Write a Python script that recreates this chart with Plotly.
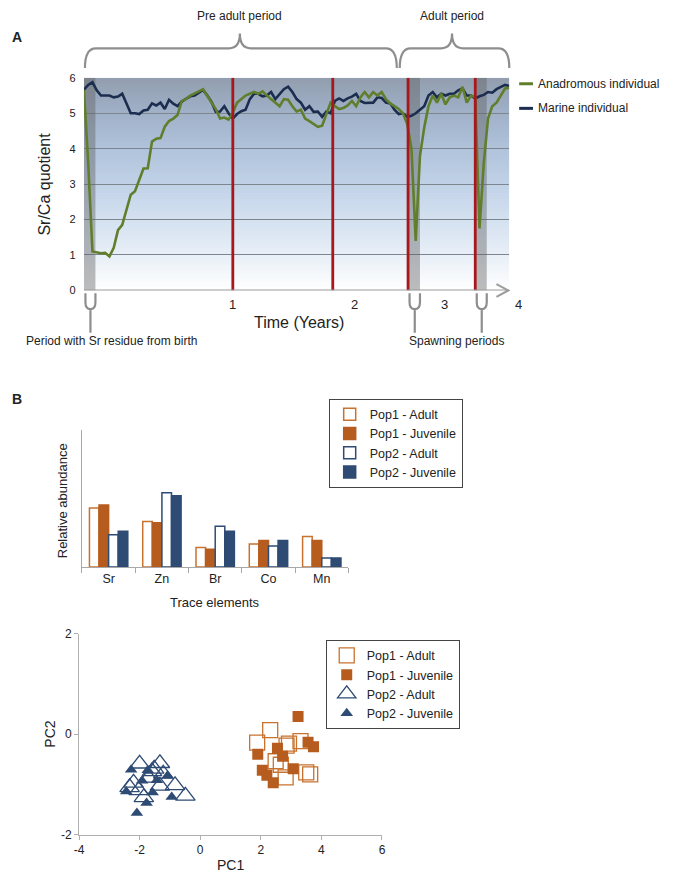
import plotly.graph_objects as go

W, H = 685, 880
FONT = "Liberation Sans, Arial, sans-serif"

# ---------------- Panel A data (Sr/Ca along otolith transect) ----------------
position = list(range(101))  # transect position, 0-100
marine_srca = [5.67, 5.8, 5.88, 5.65, 5.5, 5.5, 5.5, 5.45, 5.47, 5.55,
               5.25, 5.0, 5.0, 4.98, 5.08, 5.1, 5.28, 5.22, 5.3, 5.12,
               5.38, 5.27, 5.2, 5.33, 5.41, 5.48, 5.5, 5.58, 5.66, 5.5,
               5.32, 5.04, 5.05, 5.2, 5.0, 4.85, 4.98, 5.06, 5.1, 5.4,
               5.55, 5.55, 5.48, 5.5, 5.6, 5.4, 5.55, 5.68, 5.75, 5.6,
               5.4, 5.3, 5.1, 5.2, 5.04, 5.05, 4.9, 5.05, 5.0, 5.35,
               5.42, 5.35, 5.42, 5.47, 5.55, 5.35, 5.29, 5.3, 5.3, 5.45,
               5.43, 5.3, 5.28, 5.1, 4.98, 5.0, 4.9, 4.93, 5.0, 5.1,
               5.2, 5.5, 5.6, 5.45, 5.55, 5.5, 5.55, 5.55, 5.65, 5.7,
               5.5, 5.5, 5.42, 5.48, 5.52, 5.6, 5.58, 5.68, 5.75, 5.8, 5.77]
anadromous_srca = [5.66, 3.6, 1.1, 1.08, 1.05, 1.06, 0.96, 1.2, 1.7, 1.85,
                   2.3, 2.7, 2.8, 3.15, 3.44, 3.45, 4.2, 4.28, 4.3, 4.62,
                   4.78, 4.85, 4.95, 5.35, 5.4, 5.5, 5.55, 5.62, 5.68, 5.5,
                   5.3, 5.12, 4.85, 4.88, 4.82, 5.02, 5.3, 5.4, 5.5, 5.55,
                   5.6, 5.55, 5.62, 5.5, 5.4, 5.3, 5.2, 5.4, 5.38, 5.2,
                   5.05, 5.1, 4.85, 4.78, 4.7, 4.62, 4.65, 4.95, 5.3, 5.2,
                   5.12, 5.15, 5.22, 5.35, 5.2, 5.45, 5.6, 5.45, 5.6, 5.5,
                   5.6, 5.4, 5.28, 5.2, 5.12, 5.0, 4.7, 4.0, 1.4, 3.8,
                   4.6, 5.2, 5.5, 5.3, 5.55, 5.25, 5.45, 5.5, 5.45, 5.75,
                   5.3, 5.5, 5.45, 1.75, 3.6, 4.85, 5.2, 5.3, 5.5, 5.7, 5.72]
annual_marks = [35.0, 58.5, 76.2, 92.0]
birth_band = (0.0, 2.7)
spawn_bands = [(76.2, 79.0), (92.0, 94.7)]
time_tick_pos = [35.0, 63.6, 84.7, 102.1]
time_tick_text = ["1", "2", "3", "4"]
srca_ticks = [0, 1, 2, 3, 4, 5, 6]

# ---------------- Panel B bar data ----------------
elements = ["Sr", "Zn", "Br", "Co", "Mn"]
pop1_adult = [6.0, 4.63, 1.97, 2.33, 3.1]
pop1_juvenile = [6.3, 4.5, 1.8, 2.7, 2.7]
pop2_adult = [3.27, 7.53, 4.13, 2.13, 0.9]
pop2_juvenile = [3.63, 7.23, 3.63, 2.7, 0.9]

# ---------------- Panel B PCA data ----------------
p1a_pc1 = [1.88, 2.31, 2.85, 3.31, 2.49, 2.66, 2.82, 3.50, 3.63, 2.93]
p1a_pc2 = [-0.17, 0.08, -0.23, -0.14, -0.54, -0.61, -0.86, -0.76, -0.80, -0.19]
p1j_pc1 = [3.23, 3.56, 3.74, 1.90, 2.55, 2.72, 2.05, 2.20, 2.41, 3.07]
p1j_pc2 = [0.35, -0.16, -0.25, -0.40, -0.28, -0.44, -0.72, -0.82, -0.97, -0.69]
p2a_pc1 = [-2.00, -1.33, -1.52, -1.22, -2.20, -1.70, -2.03, -1.33, -0.83, -0.49, -1.86, -1.59, -2.33]
p2a_pc2 = [-0.59, -0.58, -0.69, -0.79, -0.97, -0.87, -1.12, -1.03, -1.02, -1.23, -1.26, -0.74, -1.06]
p2j_pc1 = [-2.28, -1.73, -2.44, -1.92, -1.43, -1.08, -1.57, -0.94, -1.77, -2.09]
p2j_pc2 = [-0.71, -0.72, -1.14, -0.93, -0.92, -0.83, -1.16, -1.25, -1.37, -1.57]
pc1_ticks = [-4, -2, 0, 2, 4, 6]
pc2_ticks = [-2, 0, 2]

# ---------------- styling ----------------
GREEN = "#617e2c"
NAVY = "#1c2e4f"
RED = "#a8171c"
ORANGE = "#b65c1f"
ORANGE_LINE = "#c8722f"
BLUE = "#2e4b74"
GRAYLINE = "#8e8e8e"


def px(x):
    return x / W


def py(y):
    return 1 - y / H


XA_DOM = [px(80), px(511)]
XA_RANGE = [0, 100]


def xa_paper(v):
    # position along panel A's time axis expressed in paper units (axis extends past the frame)
    return XA_DOM[0] + (v - XA_RANGE[0]) / (XA_RANGE[1] - XA_RANGE[0]) * (XA_DOM[1] - XA_DOM[0])


fig = go.Figure()

# gray bands (birth + spawning)
for b0, b1 in [birth_band] + spawn_bands:
    fig.add_trace(go.Scatter(x=[b0, b1, b1, b0, b0], y=[0, 0, 6, 6, 0], mode="lines",
                             fill="toself", fillcolor="rgba(95,95,95,0.42)",
                             line=dict(width=0), showlegend=False, hoverinfo="skip",
                             xaxis="x", yaxis="y"))

fig.add_trace(go.Scatter(x=position, y=marine_srca, mode="lines", name="Marine individual",
                         line=dict(color=NAVY, width=2.6), showlegend=False,
                         xaxis="x", yaxis="y"))
fig.add_trace(go.Scatter(x=position, y=anadromous_srca, mode="lines", name="Anadromous individual",
                         line=dict(color=GREEN, width=2.6), showlegend=False,
                         xaxis="x", yaxis="y"))
mx, my = [], []
for m in annual_marks:
    mx += [m, m, None]
    my += [0, 6, None]
fig.add_trace(go.Scatter(x=mx, y=my, mode="lines", line=dict(color=RED, width=2.8),
                         showlegend=False, hoverinfo="skip", xaxis="x", yaxis="y"))

# ---------------- bars ----------------
bar_specs = [("Pop1 - Adult", pop1_adult, "white", ORANGE_LINE),
             ("Pop1 - Juvenile", pop1_juvenile, ORANGE, ORANGE),
             ("Pop2 - Adult", pop2_adult, "white", BLUE),
             ("Pop2 - Juvenile", pop2_juvenile, BLUE, BLUE)]
for name, vals, fillc, linec in bar_specs:
    fig.add_trace(go.Bar(x=elements, y=vals, name=name,
                         marker=dict(color=fillc, line=dict(color=linec, width=1.5)),
                         xaxis="x2", yaxis="y2", legend="legend"))

# ---------------- PCA scatter ----------------
fig.add_trace(go.Scatter(x=p1a_pc1, y=p1a_pc2, mode="markers", name="Pop1 - Adult",
                         marker=dict(symbol="square-open", size=15, color=ORANGE_LINE,
                                     line=dict(width=1.3, color=ORANGE_LINE)),
                         xaxis="x3", yaxis="y3", legend="legend2"))
fig.add_trace(go.Scatter(x=p1j_pc1, y=p1j_pc2, mode="markers", name="Pop1 - Juvenile",
                         marker=dict(symbol="square", size=11, color=ORANGE,
                                     line=dict(width=0)),
                         xaxis="x3", yaxis="y3", legend="legend2"))
fig.add_trace(go.Scatter(x=p2a_pc1, y=p2a_pc2, mode="markers", name="Pop2 - Adult",
                         marker=dict(symbol="triangle-up-open", size=17, color=BLUE,
                                     line=dict(width=1.3, color=BLUE)),
                         xaxis="x3", yaxis="y3", legend="legend2"))
fig.add_trace(go.Scatter(x=p2j_pc1, y=p2j_pc2, mode="markers", name="Pop2 - Juvenile",
                         marker=dict(symbol="triangle-up", size=11, color=BLUE,
                                     line=dict(width=0)),
                         xaxis="x3", yaxis="y3", legend="legend2"))

# ---------------- shapes ----------------
shapes = []
# vertical gradient background of panel A
stops = [(255, 255, 255), (232, 239, 247), (212, 225, 240), (193, 210, 231),
         (176, 195, 219), (160, 177, 200), (146, 158, 175)]
nstrip = 72
for i in range(nstrip):
    y0 = 6 * i / nstrip
    y1 = 6 * (i + 1) / nstrip
    ym = (y0 + y1) / 2
    k = min(int(ym), 5)
    f = ym - k
    c = [round(stops[k][j] + (stops[k + 1][j] - stops[k][j]) * f) for j in range(3)]
    shapes.append(dict(type="rect", xref="x", yref="y", x0=0, x1=100, y0=y0,
                       y1=min(y1 + 0.05, 6), fillcolor=f"rgb({c[0]},{c[1]},{c[2]})",
                       line=dict(width=0), layer="below"))
# x axis line with arrow
shapes.append(dict(type="line", xref="x", yref="y", x0=0, x1=100, y0=0, y1=0,
                   line=dict(color="#9c9c9c", width=2), layer="above"))
shapes.append(dict(type="path", xref="paper", yref="paper",
                   path=f"M{px(498)},{py(281.5)} L{px(510)},{py(288)} L{px(498)},{py(294.5)}",
                   line=dict(color="#9c9c9c", width=2)))


def brace(x0, x1, xm, yend=62, ybar=42, ytip=27, r=11):
    return (f"M{px(x0)},{py(yend)} Q{px(x0)},{py(ybar)} {px(x0 + r)},{py(ybar)} "
            f"L{px(xm - r)},{py(ybar)} Q{px(xm)},{py(ybar)} {px(xm)},{py(ytip)} "
            f"Q{px(xm)},{py(ybar)} {px(xm + r)},{py(ybar)} L{px(x1 - r)},{py(ybar)} "
            f"Q{px(x1)},{py(ybar)} {px(x1)},{py(yend)}")


shapes.append(dict(type="path", xref="paper", yref="paper", path=brace(81, 397, 238),
                   line=dict(color=GRAYLINE, width=2.2)))
shapes.append(dict(type="path", xref="paper", yref="paper", path=brace(400, 511, 453),
                   line=dict(color=GRAYLINE, width=2.2)))


def fork(xl, xr):
    xc = (xl + xr) / 2
    return (f"M{xl},{py(291)} L{xl},{py(300)} Q{xl},{py(307)} {xc},{py(307)} "
            f"Q{xr},{py(307)} {xr},{py(300)} L{xr},{py(291)} M{xc},{py(307)} L{xc},{py(331)}")


for b0, b1 in [birth_band] + spawn_bands:
    shapes.append(dict(type="path", xref="x", yref="paper", path=fork(b0 + 0.35, b1),
                       line=dict(color=GRAYLINE, width=2.2)))
# legend samples for panel A
shapes.append(dict(type="line", xref="paper", yref="paper", x0=px(521), x1=px(535),
                   y0=py(78), y1=py(78), line=dict(color=GREEN, width=3)))
shapes.append(dict(type="line", xref="paper", yref="paper", x0=px(521), x1=px(535),
                   y0=py(103), y1=py(103), line=dict(color=NAVY, width=3)))

# ---------------- annotations ----------------
ann = []


def text(x, y, s, size=12, angle=0, anchor="center", bold=False):
    ann.append(dict(x=px(x), y=py(y), xref="paper", yref="paper", text=f"<b>{s}</b>" if bold else s,
                    showarrow=False, xanchor=anchor, yanchor="middle", textangle=angle,
                    font=dict(family=FONT, size=size, color="#222")))


text(12, 30, "A", 14, bold=True)
text(12, 398, "B", 14, bold=True)
text(238, 9, "Pre adult period", 12)
text(453, 9, "Adult period", 12)
text(108, 339, "Period with Sr residue from birth", 12)
text(458, 339, "Spawning periods", 12)
text(298, 321, "Time (Years)", 16)
text(40, 180, "Sr/Ca quotient", 16, angle=-90)
text(538, 78, "Anadromous individual", 12, anchor="left")
text(538, 103, "Marine individual", 12, anchor="left")
text(58, 502, "Relative abundance", 13, angle=-90)
text(213, 605, "Trace elements", 13)
text(228, 872, "PC1", 14)
text(46, 739, "PC2", 14, angle=-90)
for pos, lab in zip(time_tick_pos, time_tick_text):
    ann.append(dict(x=xa_paper(pos), y=py(302), xref="paper", yref="paper", text=lab,
                    showarrow=False, xanchor="center", yanchor="middle",
                    font=dict(family=FONT, size=13, color="#222")))

fig.update_layout(
    width=W, height=H, margin=dict(l=0, r=0, t=0, b=0),
    paper_bgcolor="white", plot_bgcolor="white",
    font=dict(family=FONT, color="#222"),
    barmode="group", bargap=0.28, bargroupgap=0,
    shapes=shapes, annotations=ann,
    xaxis=dict(domain=XA_DOM, range=XA_RANGE, anchor="y", showticklabels=False,
               showgrid=False, zeroline=False, showline=False, ticks="", fixedrange=True),
    yaxis=dict(domain=[py(288), py(72)], range=[0, 6], anchor="x", tickvals=srca_ticks,
               showgrid=True, gridcolor="#7d858f", gridwidth=1, zeroline=False, showline=False,
               ticks="outside", ticklen=5, tickcolor="rgba(0,0,0,0)",
               tickfont=dict(size=11, color="#222")),
    xaxis2=dict(domain=[px(78), px(348)], anchor="y2", showgrid=False, zeroline=False,
                showline=True, linecolor="#a8a8a8", linewidth=1, ticks="outside",
                tickson="boundaries", ticklen=5, tickcolor="#a8a8a8",
                tickfont=dict(size=12.5, color="#222")),
    yaxis2=dict(domain=[py(569), py(430)], anchor="x2", range=[0, 13.9], showgrid=False,
                zeroline=False, showline=True, linecolor="#a8a8a8", linewidth=1,
                showticklabels=False, ticks=""),
    xaxis3=dict(domain=[px(75), px(382)], anchor="y3", range=[-4, 6],
                tickvals=pc1_ticks, ticktext=[str(v) for v in pc1_ticks], showgrid=False,
                zeroline=False, showline=True, linecolor="#b0b0b0", ticks="outside", ticklen=4,
                tickcolor="#b0b0b0", tickfont=dict(size=12, color="#222")),
    yaxis3=dict(domain=[py(841), py(636.7)], anchor="x3", range=[-2, 2],
                tickvals=pc2_ticks, ticktext=[str(v) for v in pc2_ticks], showgrid=False,
                zeroline=False, showline=True, linecolor="#b0b0b0", ticks="outside", ticklen=4,
                tickcolor="#b0b0b0", tickfont=dict(size=12, color="#222")),
    legend=dict(x=px(328), y=py(398), xanchor="left", yanchor="top", bgcolor="white",
                bordercolor="#444", borderwidth=1, itemwidth=30, tracegroupgap=0,
                font=dict(family=FONT, size=12.5, color="#222")),
    legend2=dict(x=px(325), y=py(643), xanchor="left", yanchor="top", bgcolor="white",
                 bordercolor="#444", borderwidth=1, itemwidth=30, tracegroupgap=0,
                 font=dict(family=FONT, size=12.5, color="#222")),
)

fig.write_html("out.html", config={"displayModeBar": False},
               post_script="document.body.style.margin='0';document.body.style.overflow='hidden';")
